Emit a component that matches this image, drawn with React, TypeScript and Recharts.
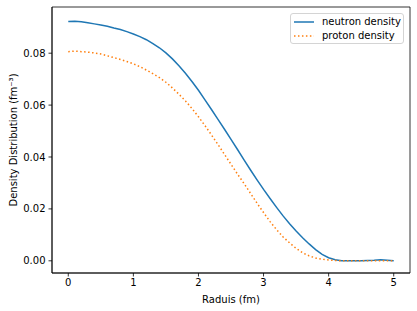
import React from "react";
import { LineChart, Line, XAxis, YAxis, Label, ReferenceArea } from "recharts";

const radius = [
  0, 0.1, 0.2, 0.3, 0.4, 0.5, 0.6, 0.7, 0.8, 0.9,
  1.0, 1.1, 1.2, 1.3, 1.4, 1.5, 1.6, 1.7, 1.8, 1.9,
  2.0, 2.1, 2.2, 2.3, 2.4, 2.5, 2.6, 2.7, 2.8, 2.9,
  3.0, 3.1, 3.2, 3.3, 3.4, 3.5, 3.6, 3.7, 3.8, 3.9,
  4.0, 4.1, 4.2, 4.3, 4.4, 4.5, 4.6, 4.7, 4.8, 4.9, 5.0,
];

const neutronDensity = [
  0.0922, 0.0923, 0.0921, 0.0917, 0.0913, 0.0909, 0.0904, 0.0897, 0.0891, 0.0883,
  0.0874, 0.0864, 0.0852, 0.0837, 0.0821, 0.0801, 0.0778, 0.0752, 0.0723, 0.0691,
  0.0657, 0.0620, 0.0583, 0.0545, 0.0507, 0.0468, 0.0429, 0.0389, 0.035, 0.0312,
  0.0275, 0.024, 0.0206, 0.0173, 0.0143, 0.0115, 0.0089, 0.0065, 0.0043, 0.0025,
  0.0012, 0.0004, 0.0, 0.0, 0.0, 0.0, 0.0001, 0.0002, 0.0004, 0.0002, 0.0,
];

const protonDensity = [
  0.0806, 0.0808, 0.0806, 0.0804, 0.0801, 0.0797, 0.079, 0.0783, 0.0776, 0.0768,
  0.0759, 0.0748, 0.0735, 0.0721, 0.0706, 0.0688, 0.0666, 0.0642, 0.0616, 0.0587,
  0.0555, 0.0521, 0.0485, 0.0448, 0.041, 0.0372, 0.0334, 0.0298, 0.026, 0.0222,
  0.0186, 0.0151, 0.012, 0.0092, 0.0069, 0.0048, 0.0031, 0.0019, 0.0011, 0.0006,
  0.0003, 0.0001, 0.0, 0.0, 0.0, 0.0, 0.0, 0.0, 0.0, 0.0, 0.0,
];

const xTicks = [0, 1, 2, 3, 4, 5];
const yTicks = [0, 0.02, 0.04, 0.06, 0.08];

const seriesNames = ["neutron density", "proton density"];

const data = radius.map((r, i) => ({
  r,
  neutron: neutronDensity[i],
  proton: protonDensity[i],
}));

const FONT = "DejaVu Sans, sans-serif";
const BLUE = "#1f77b4";
const ORANGE = "#ff7f0e";
const X_DOMAIN: [number, number] = [-0.25, 5.25];
const Y_DOMAIN: [number, number] = [-0.0047, 0.0978];

const LegendBox = () => (
  <div
    style={{
      position: "absolute",
      left: 290,
      top: 13,
      width: 114,
      height: 31,
      border: "1px solid #d4d4d4",
      borderRadius: 3,
      background: "rgba(255,255,255,0.8)",
      boxSizing: "border-box",
      fontFamily: FONT,
      fontSize: 10,
      color: "#000",
    }}
  >
    {seriesNames.map((name, i) => (
      <div
        key={name}
        style={{
          position: "absolute",
          left: 0,
          top: 0.5 + i * 14.3,
          height: 14,
          display: "flex",
          alignItems: "center",
          whiteSpace: "nowrap",
        }}
      >
        <svg width={31} height={14} style={{ display: "block" }}>
          <line
            x1={3}
            x2={23}
            y1={7}
            y2={7}
            stroke={i === 0 ? BLUE : ORANGE}
            strokeWidth={1.5}
            strokeDasharray={i === 0 ? undefined : "1.5 2.475"}
          />
        </svg>
        <span style={{ lineHeight: "14px" }}>{name}</span>
      </div>
    ))}
  </div>
);

export default function App() {
  return (
    <div style={{ position: "absolute", left: 0, top: 0, width: 417, height: 311, background: "#fff" }}>
      <LineChart
        width={417}
        height={311}
        data={data}
        margin={{ top: 7, right: 7, bottom: 0, left: 0 }}
        style={{ fontFamily: FONT }}
      >
        <XAxis
          dataKey="r"
          type="number"
          domain={X_DOMAIN}
          ticks={xTicks}
          allowDataOverflow
          height={38}
          tickSize={3.5}
          tickMargin={2}
          stroke="#000"
          strokeWidth={0.8}
          tick={{ fill: "#000", fontSize: 10, fontFamily: FONT }}
          tickFormatter={(v: number) => String(v)}
        >
          <Label
            value="Raduis (fm)"
            position="insideBottom"
            offset={8}
            style={{ fill: "#000", fontSize: 10, fontFamily: FONT }}
          />
        </XAxis>
        <YAxis
          type="number"
          domain={Y_DOMAIN}
          ticks={yTicks}
          allowDataOverflow
          width={52}
          tickSize={3.5}
          tickMargin={3}
          stroke="#000"
          strokeWidth={0.8}
          tick={{ fill: "#000", fontSize: 10, fontFamily: FONT }}
          tickFormatter={(v: number) => v.toFixed(2)}
        >
          <Label
            value="Density Distribution (fm⁻³)"
            angle={-90}
            position="insideLeft"
            offset={13}
            style={{ fill: "#000", fontSize: 10, fontFamily: FONT, textAnchor: "middle" }}
          />
        </YAxis>
        <ReferenceArea
          x1={X_DOMAIN[0]}
          x2={X_DOMAIN[1]}
          y1={Y_DOMAIN[0]}
          y2={Y_DOMAIN[1]}
          fill="none"
          stroke="#000"
          strokeWidth={0.8}
          ifOverflow="visible"
        />
        <Line
          dataKey="neutron"
          stroke={BLUE}
          strokeWidth={1.5}
          dot={false}
          isAnimationActive={false}
          type="linear"
        />
        <Line
          dataKey="proton"
          stroke={ORANGE}
          strokeWidth={1.5}
          strokeDasharray="1.5 2.475"
          dot={false}
          isAnimationActive={false}
          type="linear"
        />
      </LineChart>
      <LegendBox />
    </div>
  );
}
